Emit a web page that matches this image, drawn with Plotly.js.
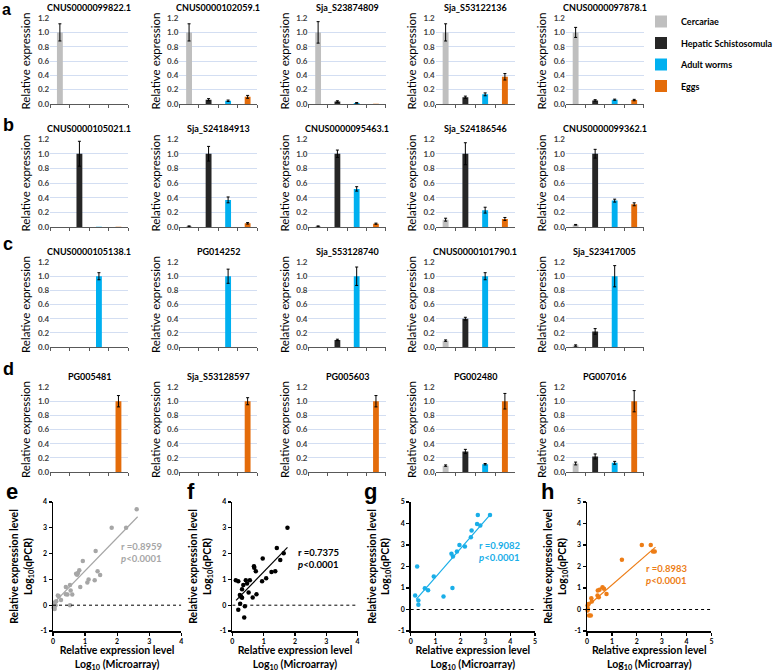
<!DOCTYPE html>
<html><head><meta charset="utf-8">
<script src="https://cdn.plot.ly/plotly-3.0.1.min.js"></script>
<style>html,body{margin:0;padding:0;background:#fff}#chart{width:778px;height:672px}</style>
</head><body><div id="chart"></div>
<script>
// ---------- DATA ----------
const stages = ['Cercariae', 'Hepatic Schistosomula', 'Adult worms', 'Eggs'];
const stageColors = ['#bfbfbf', '#262626', '#00b0f0', '#e46c0a'];

const genesRowA = ['CNUS0000099822.1', 'CNUS0000102059.1', 'Sja_S23874809', 'Sja_S53122136', 'CNUS0000097878.1'];
const valuesRowA = [[1.0, 0, 0, 0], [1.0, 0.06, 0.045, 0.10], [1.0, 0.035, 0.015, 0.005], [1.0, 0.095, 0.135, 0.38], [1.0, 0.05, 0.06, 0.055]];
const errorsRowA = [[0.12, 0, 0, 0], [0.12, 0.015, 0.01, 0.02], [0.15, 0.01, 0.005, 0], [0.12, 0.015, 0.02, 0.045], [0.07, 0.01, 0.008, 0.01]];

const genesRowB = ['CNUS0000105021.1', 'Sja_S24184913', 'CNUS0000095463.1', 'Sja_S24186546', 'CNUS0000099362.1'];
const valuesRowB = [[0, 1.0, 0.005, 0.005], [0.01, 1.0, 0.37, 0.05], [0.01, 1.0, 0.52, 0.045], [0.10, 1.0, 0.23, 0.11], [0.03, 1.0, 0.36, 0.31]];
const errorsRowB = [[0, 0.17, 0, 0], [0.005, 0.1, 0.04, 0.01], [0.005, 0.05, 0.03, 0.008], [0.02, 0.15, 0.04, 0.02], [0.005, 0.06, 0.02, 0.02]];

const genesRowC = ['CNUS0000105138.1', 'PG014252', 'Sja_S53128740', 'CNUS0000101790.1', 'Sja_S23417005'];
const valuesRowC = [[0, 0, 1.0, 0], [0, 0, 1.0, 0], [0, 0.10, 1.0, 0], [0.09, 0.40, 1.0, 0], [0.02, 0.22, 1.0, 0]];
const errorsRowC = [[0, 0, 0.05, 0], [0, 0, 0.10, 0], [0, 0.01, 0.13, 0], [0.01, 0.02, 0.05, 0], [0.01, 0.04, 0.15, 0]];

const genesRowD = ['PG005481', 'Sja_S53128597', 'PG005603', 'PG002480', 'PG007016'];
const valuesRowD = [[0, 0, 0, 1.0], [0, 0, 0, 1.0], [0, 0, 0, 1.0], [0.09, 0.29, 0.11, 1.0], [0.12, 0.22, 0.13, 1.0]];
const errorsRowD = [[0, 0, 0, 0.08], [0, 0, 0, 0.05], [0, 0, 0, 0.08], [0.01, 0.03, 0.01, 0.11], [0.02, 0.035, 0.02, 0.15]];

const yTickVals = [0, 0.2, 0.4, 0.6, 0.8, 1.0, 1.2];

// Scatter panels: log10(microarray) vs log10(qPCR)
const cercMicro = [2.61, 1.83, 2.28, 1.33, 0.93, 0.72, 0.75, 0.78, 0.82, 1.39, 1.47, 1.11, 1.07, 1.30, 0.85, 0.40, 0.53, 0.55, 0.45, 0.60, 0.40, 0.15, 0.18, 0.25, 0.05, 0.08, 0.02, 0.05, 0.03, 0.53, 0.10, 0.05];
const cercQpcr  = [3.72, 3.00, 3.00, 2.10, 1.71, 1.22, 1.18, 1.25, 1.35, 1.32, 1.17, 1.00, 0.88, 0.97, 0.71, 0.71, 0.78, 0.57, 0.41, 0.41, 0.42, 0.38, 0.35, 0.20, 0.10, 0.00, -0.10, -0.15, 0.05, 0.00, 0.15, -0.05];
const cercFitX = [0.0, 2.64], cercFitY = [0.05, 3.43];

const hepMicro = [1.76, 1.42, 1.64, 0.97, 1.53, 0.69, 0.70, 0.75, 1.25, 1.37, 1.08, 0.95, 0.11, 0.19, 0.43, 0.56, 0.47, 0.35, 0.31, 0.52, 0.77, 0.65, 0.24, 0.28, 0.31, 0.25, 0.40, 0.19, 0.38];
const hepQpcr  = [3.00, 2.22, 2.01, 1.81, 1.75, 1.51, 1.45, 1.32, 1.29, 1.32, 1.04, 0.93, 0.97, 0.93, 0.97, 0.97, 0.84, 0.78, 0.62, 0.49, 0.42, 0.30, 0.40, 0.33, 0.29, 0.06, -0.04, -0.18, -0.48];
const hepFitX = [0.12, 1.76], hepFitY = [0.19, 2.24];

const adultMicro = [3.19, 2.70, 2.67, 2.80, 2.45, 2.42, 1.96, 2.18, 1.86, 1.64, 1.70, 0.93, 0.26, 0.57, 0.70, 1.68, 1.32, 0.18, 0.31, 0.31];
const adultQpcr  = [4.40, 4.40, 3.98, 3.91, 3.67, 3.36, 3.00, 2.93, 2.70, 2.59, 2.47, 1.53, 2.00, 0.99, 0.89, 1.00, 0.60, 0.65, 0.42, 0.22];
const adultFitX = [0.22, 3.19], adultFitY = [0.47, 4.40];

const eggMicro = [2.20, 2.56, 2.65, 2.72, 1.40, 0.62, 0.68, 0.43, 0.50, 0.78, 0.42, 0.47, 0.17, 0.19, 0.06, 0.02, 0.03, 0.02, 0.08, 0.15];
const eggQpcr  = [3.00, 3.00, 2.70, 2.70, 2.31, 1.04, 0.96, 0.88, 0.92, 0.72, 0.65, 0.57, 0.52, 0.37, 0.26, 0.19, 0.03, -0.05, -0.28, -0.28];
const eggFitX = [0.0, 2.75], eggFitY = [0.14, 2.90];

const corrLabels = ['r =0.8959', 'r =0.7375', 'r =0.9082', 'r =0.8983'];

// ---------- BUILD ----------
const W = 778, H = 672;
const FONT = 'Lato, "Open Sans", sans-serif';
const colPx = [[52, 133], [186, 267], [320, 400], [452, 534], [587, 668]];
const rowPx = [[18, 104], [139, 227], [262, 347], [387, 472]];
const rows = [
  [genesRowA, valuesRowA, errorsRowA],
  [genesRowB, valuesRowB, errorsRowB],
  [genesRowC, valuesRowC, errorsRowC],
  [genesRowD, valuesRowD, errorsRowD]
];

const traces = [];
const annotations = [];
const shapes = [];
const layout = {
  width: W, height: H,
  margin: {l: 0, r: 0, t: 0, b: 0},
  paper_bgcolor: '#fff', plot_bgcolor: 'rgba(0,0,0,0)',
  barmode: 'overlay', bargap: 0.7,
  font: {family: FONT, color: '#000'},
  showlegend: true,
  legend: {x: 665 / W, y: 1 - 7 / H, xanchor: 'left', yanchor: 'top', bgcolor: 'rgba(0,0,0,0)',
           font: {family: FONT, size: 9, color: '#000'}, tracegroupgap: 2.5, itemwidth: 30},
  annotations: annotations, shapes: shapes
};

let n = 0;
rows.forEach((row, r) => {
  const [genes, vals, errs] = row;
  genes.forEach((g, c) => {
    n++;
    const xa = n === 1 ? 'x' : 'x' + n, ya = n === 1 ? 'y' : 'y' + n;
    stages.forEach((s, k) => {
      traces.push({
        type: 'bar', x: [s], y: [vals[c][k]], name: '<b>' + s + '</b>', legendgroup: s, showlegend: n === 1,
        marker: {color: stageColors[k], line: {width: 0}},
        error_y: {type: 'data', array: [errs[c][k]], visible: errs[c][k] > 0, color: '#000', thickness: 1, width: 1.5},
        xaxis: xa, yaxis: ya, hoverinfo: 'skip'
      });
    });
    layout['xaxis' + (n === 1 ? '' : n)] = {
      domain: [colPx[c][0] / W, colPx[c][1] / W], anchor: ya, type: 'category',
      categoryorder: 'array', categoryarray: stages, range: [-0.5, 3.5],
      showticklabels: false, tickson: 'boundaries', ticks: 'outside', ticklen: 3, tickcolor: '#595959',
      showline: true, linecolor: '#595959', linewidth: 1, showgrid: false, zeroline: false,
      fixedrange: true, automargin: false
    };
    layout['yaxis' + (n === 1 ? '' : n)] = {
      domain: [1 - rowPx[r][1] / H, 1 - rowPx[r][0] / H], anchor: xa,
      range: [0, 1.201], tickvals: yTickVals, ticktext: yTickVals.map(v => '<b>' + v.toFixed(1) + '</b>'),
      tickfont: {family: FONT, size: 8, color: '#404040'},
      showgrid: true, gridcolor: '#d3def2', gridwidth: 1, zeroline: false, showline: false, ticks: '',
      title: {text: 'Relative expression', font: {family: FONT, size: 11.5, color: '#000'}, standoff: 4},
      fixedrange: true, automargin: false
    };
    annotations.push({
      text: '<b>' + g + '</b>', xref: xa + ' domain', yref: ya + ' domain', x: 0.5, y: 1,
      xanchor: 'center', yanchor: 'bottom', yshift: 3, showarrow: false,
      font: {family: FONT, size: 9, color: '#000'}
    });
  });
});

// panel letters a-d
annotations.push({text: '<b>a</b>', xref: 'paper', yref: 'paper', x: 1 / W, y: 1, borderpad: 0,
  xanchor: 'left', yanchor: 'top', yshift: 0, showarrow: false, font: {family: 'Liberation Sans, Arial, sans-serif', size: 16, color: '#000'}});
[['b', 125], ['c', 244], ['d', 369]].forEach(([t, y]) => {
  annotations.push({text: '<b>' + t + '</b>', xref: 'paper', yref: 'paper', x: 1 / W, y: 1 - y / H,
    xanchor: 'left', yanchor: 'middle', showarrow: false, font: {family: 'Liberation Sans, Arial, sans-serif', size: 18, color: '#000'}});
});

// scatter panels
const scat = [
  {mx: cercMicro, qy: cercQpcr, fx: cercFitX, fy: cercFitY, col: '#a6a6a6', px: [55, 188], xmax: 4, ymax: 4, lab: [2.05, 2.06], letter: 'e', lx: 4},
  {mx: hepMicro, qy: hepQpcr, fx: hepFitX, fy: hepFitY, col: '#000000', px: [241, 371], xmax: 4, ymax: 4, lab: [2.02, 1.8], letter: 'f', lx: 192},
  {mx: adultMicro, qy: adultQpcr, fx: adultFitX, fy: adultFitY, col: '#19aee8', px: [426, 555], xmax: 5, ymax: 5, lab: [2.67, 2.68], letter: 'g', lx: 376},
  {mx: eggMicro, qy: eggQpcr, fx: eggFitX, fy: eggFitY, col: '#ed7d16', px: [609, 738], xmax: 5, ymax: 5, lab: [2.30, 1.62], letter: 'h', lx: 559}
];
const scatY = [502, 631];
scat.forEach((p, i) => {
  n++;
  const xa = 'x' + n, ya = 'y' + n;
  traces.push({type: 'scatter', mode: 'markers', x: p.mx, y: p.qy, xaxis: xa, yaxis: ya, showlegend: false,
    marker: {color: p.col, size: 4.5}, hoverinfo: 'skip', cliponaxis: false});
  traces.push({type: 'scatter', mode: 'lines', x: p.fx, y: p.fy, xaxis: xa, yaxis: ya, showlegend: false,
    line: {color: p.col, width: 1.2}, hoverinfo: 'skip'});
  const tickf = {family: FONT, size: 7, color: '#000'};
  layout['xaxis' + n] = {
    domain: [p.px[0] / W, p.px[1] / W], anchor: ya, range: [0, p.xmax], tickvals: [0, 1, 2, 3, 4, 5].filter(v => v <= p.xmax),
    ticktext: [0, 1, 2, 3, 4, 5].filter(v => v <= p.xmax).map(v => '<b>' + v + '</b>'),
    showline: true, linecolor: '#000', linewidth: 1.5, ticks: 'outside', ticklen: 3, tickwidth: 1.2, tickcolor: '#000',
    showgrid: false, zeroline: false, tickfont: tickf, fixedrange: true, automargin: false,
    title: {text: '<b>Relative expression level</b><br><b>Log<sub>10</sub> (Microarray)</b>', font: {family: FONT, size: 10.5, color: '#000'}, standoff: 16}
  };
  layout['yaxis' + n] = {
    domain: [1 - scatY[1] / H, 1 - scatY[0] / H], anchor: xa, range: [-1, p.ymax],
    tickvals: [-1, 0, 1, 2, 3, 4, 5].filter(v => v <= p.ymax),
    ticktext: [-1, 0, 1, 2, 3, 4, 5].filter(v => v <= p.ymax).map(v => '<b>' + v + '</b>'),
    showline: true, linecolor: '#000', linewidth: 1.5, ticks: 'outside', ticklen: 3, tickwidth: 1.2, tickcolor: '#000',
    showgrid: false, zeroline: false, tickfont: tickf, fixedrange: true, automargin: false,
    title: {text: '<b>Relative expression level</b><br><b>Log<sub>10</sub>(qPCR)</b>', font: {family: FONT, size: 10.5, color: '#000'}, standoff: 6}
  };
  shapes.push({type: 'line', xref: xa, yref: ya, x0: 0, x1: p.xmax, y0: 0, y1: 0,
    line: {color: '#000', width: 1, dash: 'dot'}});
  annotations.push({text: '<b>' + corrLabels[i] + '</b><br><b><i>p</i>&lt;0.0001</b>', xref: xa, yref: ya,
    x: p.lab[0], y: p.lab[1], xanchor: 'left', yanchor: 'middle', align: 'left', showarrow: false,
    font: {family: FONT, size: 9.5, color: p.col}});
  annotations.push({text: '<b>' + p.letter + '</b>', xref: 'paper', yref: 'paper', x: p.lx / W, y: 1 - 492 / H,
    xanchor: 'left', yanchor: 'middle', showarrow: false, font: {family: 'Liberation Sans, Arial, sans-serif', size: 22, color: '#000'}});
});

Plotly.newPlot('chart', traces, layout, {staticPlot: true, displayModeBar: false});
</script>
</body></html>
